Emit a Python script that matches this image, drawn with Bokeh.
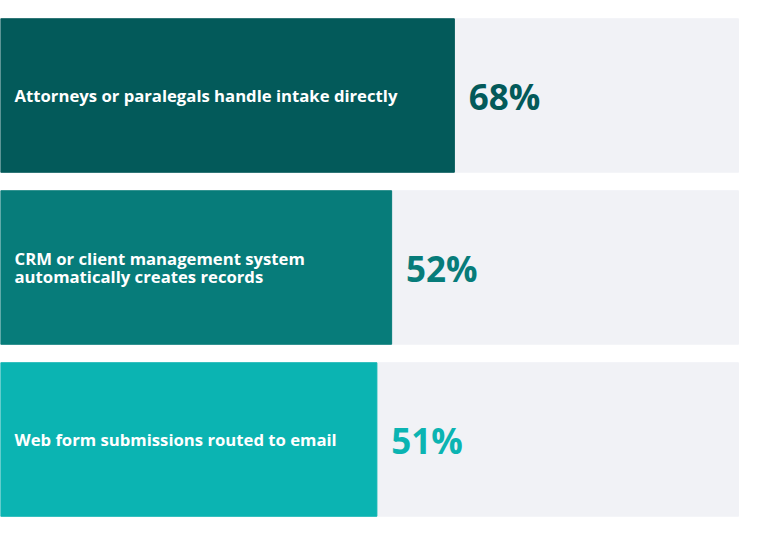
from bokeh.plotting import figure
from bokeh.models import Range1d, ColumnDataSource
from bokeh.core.properties import value
from bokeh.embed import file_html
from bokeh.resources import INLINE

categories = [
    "Attorneys or paralegals handle intake directly",
    "CRM or client management system\nautomatically creates records",
    "Web form submissions routed to email",
]
values = [68, 52, 51]
bar_fill = [61.5, 53.0, 51.0]   # filled length as drawn, in % of track
colors = ["#035A5A", "#077C7A", "#0BB4B2"]
track_color = "#F1F2F6"

W, H = 743, 518
px_per_unit_x = 7.38
px_per_row = 172.0
top_center_px = 95.0

idx = list(range(len(categories)))
src = ColumnDataSource(dict(
    y=idx,
    cat=categories,
    fill=bar_fill,
    lbl=[f"{v}%" for v in values],
    lx=[f + 1.95 for f in bar_fill],
    color=colors,
))

y_top = -top_center_px / px_per_row
y_bot = y_top + H / px_per_row
p = figure(width=W, height=H, output_backend="svg", toolbar_location=None,
           x_range=Range1d(0, W / px_per_unit_x), y_range=Range1d(y_bot, y_top),
           min_border=0, border_fill_color="white", background_fill_color="white")
p.axis.visible = False
p.grid.visible = False
p.outline_line_color = None

bh = 153.5 / px_per_row
p.hbar(y=[i for i in idx], left=0, right=100, height=bh, color=track_color)
p.hbar(y="y", left=0, right="fill", height=bh, color="color", source=src)

p.text(x=1.9, y="y", text="cat", source=src, text_color="white",
       text_font=value("Open Sans"), text_font_style="bold", text_font_size="16.7px",
       text_baseline="middle", text_align="left", text_line_height=0.79)
p.text(x="lx", y="y", text="lbl", source=src, text_color="color",
       text_font=value("Open Sans"), text_font_style="bold", text_font_size="35px",
       text_baseline="middle", text_align="left", y_offset=1)

open("out.html", "w").write(file_html(p, INLINE))
